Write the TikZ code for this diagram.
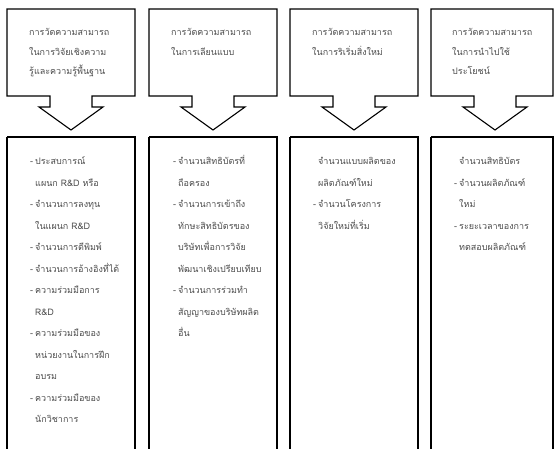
\documentclass[tikz,border=0pt]{standalone}
\usepackage{fontspec}
\newfontfamily\thaifont[Script=Thai]{Loma}
\begin{document}
\begin{tikzpicture}[x=1pt,y=-1pt,
  boxline/.style={draw=black,line width=1.1pt},
  toptxt/.style={font=\thaifont\fontsize{9}{19.5}\selectfont,text=black!70,inner sep=0pt,anchor=base west},
  listtxt/.style={font=\thaifont\fontsize{9}{21.5}\selectfont,text=black!70,inner sep=0pt,anchor=base west}]
\clip (0,0) rectangle (554,449);
% callout boxes with down arrows and lower boxes
\foreach \L/\R in {7/135,149/277,290/418,431/553}{
  \draw[boxline] (\L,9) -- (\R,9) -- (\R,96) -- (\L+85,96) -- (\L+85,107)
    -- (\L+96,107) -- (\L+64,130) -- (\L+32,107) -- (\L+43,107) -- (\L+43,96)
    -- (\L,96) -- cycle;
  \draw[boxline] (\L,137) -- (\R,137) -- (\R,470) (\L,137) -- (\L,470);
}
% top texts
\node[toptxt] (h1) at (29,36) {\begin{tabular}[t]{@{}l@{}}การวัดความสามารถ\\ในการวิจัยเชิงความ\\รู้และความรู้พื้นฐาน\end{tabular}};
\node[toptxt] (h2) at (171,36) {\begin{tabular}[t]{@{}l@{}}การวัดความสามารถ\\ในการเลียนแบบ\end{tabular}};
\node[toptxt] (h3) at (312,36) {\begin{tabular}[t]{@{}l@{}}การวัดความสามารถ\\ในการริเริ่มสิ่งใหม่\end{tabular}};
\node[toptxt] (h4) at (452,36) {\begin{tabular}[t]{@{}l@{}}การวัดความสามารถ\\ในการนำไปใช้\\ประโยชน์\end{tabular}};
% lists
\node[listtxt] (l1) at (30,165) {\begin{tabular}[t]{@{}l@{\hspace{2pt}}l@{}}
-&ประสบการณ์\\ &แผนก R\&D หรือ\\
-&จำนวนการลงทุน\\ &ในแผนก R\&D\\
-&จำนวนการตีพิมพ์\\
-&จำนวนการอ้างอิงที่ได้\\
-&ความร่วมมือการ\\ &R\&D\\
-&ความร่วมมือของ\\ &หน่วยงานในการฝึก\\ &อบรม\\
-&ความร่วมมือของ\\ &นักวิชาการ
\end{tabular}};
\node[listtxt] (l2) at (173,165) {\begin{tabular}[t]{@{}l@{\hspace{2pt}}l@{}}
-&จำนวนสิทธิบัตรที่\\ &ถือครอง\\
-&จำนวนการเข้าถึง\\ &ทักษะสิทธิบัตรของ\\ &บริษัทเพื่อการวิจัย\\ &พัฒนาเชิงเปรียบเทียบ\\
-&จำนวนการร่วมทำ\\ &สัญญาของบริษัทผลิต\\ &อื่น
\end{tabular}};
\node[listtxt] (l3) at (313,165) {\begin{tabular}[t]{@{}l@{\hspace{2pt}}l@{}}
 &จำนวนแบบผลิตของ\\ &ผลิตภัณฑ์ใหม่\\
-&จำนวนโครงการ\\ &วิจัยใหม่ที่เริ่ม
\end{tabular}};
\node[listtxt] (l4) at (454,165) {\begin{tabular}[t]{@{}l@{\hspace{2pt}}l@{}}
 &จำนวนสิทธิบัตร\\
-&จำนวนผลิตภัณฑ์\\ &ใหม่\\
-&ระยะเวลาของการ\\ &ทดสอบผลิตภัณฑ์
\end{tabular}};
\end{tikzpicture}
\end{document}
